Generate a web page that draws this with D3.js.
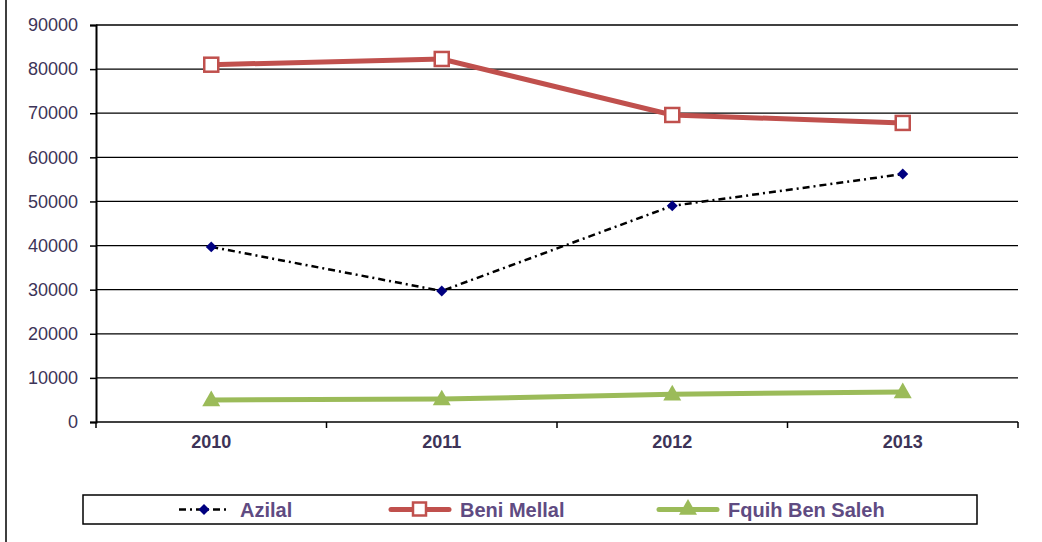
<html>
<head>
<meta charset="UTF-8">
<script src="https://d3js.org/d3.v7.min.js"></script>
<style>
  body { margin: 0; background: #fff; font-family: 'Liberation Sans', Arial, sans-serif; }
</style>
</head>
<body>
<script>
  var years = ["2010", "2011", "2012", "2013"];
  var azilal = [39700, 29700, 49000, 56200];
  var beniMellal = [81000, 82300, 69600, 67800];
  var fquih = [5000, 5200, 6300, 6800];
  var yTicks = [0, 10000, 20000, 30000, 40000, 50000, 60000, 70000, 80000, 90000];

  var W = 1042, H = 542;
  var margin = {top: 25, right: 24, bottom: 120, left: 96};
  var width = W - margin.left - margin.right,
      height = H - margin.top - margin.bottom;
  var font = "'Liberation Sans', Arial, sans-serif";

  var svg = d3.select("body").append("svg")
    .attr("width", W).attr("height", H);

  // chart border (only left edge visible in original)
  svg.append("rect")
    .attr("x", 6).attr("y", -5).attr("width", W + 10).attr("height", H + 10)
    .attr("fill", "none").attr("stroke", "#000").attr("stroke-width", 1.5);

  var g = svg.append("g")
    .attr("transform", "translate(" + margin.left + "," + margin.top + ")");

  var x = d3.scaleBand().domain(years).range([0, width]);
  var y = d3.scaleLinear().domain([0, 90000]).range([height, 0]);

  // gridlines
  g.selectAll(".grid").data(yTicks.slice(1)).enter().append("line")
    .attr("x1", 0).attr("x2", width)
    .attr("y1", function(d) { return y(d); }).attr("y2", function(d) { return y(d); })
    .attr("stroke", "#000").attr("stroke-width", 1.3);

  // y axis
  var yAxis = g.append("g")
    .call(d3.axisLeft(y).tickValues(yTicks).tickSize(6).tickPadding(12).tickFormat(d3.format("d")));
  yAxis.attr("font-size", null).attr("font-family", null);
  yAxis.select(".domain").attr("stroke-width", 2);
  yAxis.selectAll(".tick line").attr("stroke-width", 1.5);
  yAxis.selectAll("text")
    .style("font-family", font)
    .style("font-size", "18px").attr("fill", "#3d3458");

  // x axis
  var xAxis = g.append("g")
    .attr("transform", "translate(0," + height + ")")
    .call(d3.axisBottom(x).tickSize(0).tickPadding(13));
  xAxis.attr("font-size", null).attr("font-family", null);
  xAxis.select(".domain").remove();
  xAxis.selectAll("text")
    .style("font-family", font)
    .style("font-size", "18px").style("font-weight", "bold").attr("fill", "#3d3458");
  g.append("line").attr("x1", 0).attr("x2", width)
    .attr("y1", height).attr("y2", height)
    .attr("stroke", "#000").attr("stroke-width", 1.5);
  var bounds = years.map(function(d) { return x(d); }).concat([width]);
  g.selectAll(".xtick").data(bounds).enter().append("line")
    .attr("x1", function(d) { return d; }).attr("x2", function(d) { return d; })
    .attr("y1", height).attr("y2", height + 6)
    .attr("stroke", "#000").attr("stroke-width", 1.5);

  var cx = function(d, i) { return x(years[i]) + x.bandwidth() / 2; };
  var line = d3.line().x(cx).y(function(d) { return y(d); });

  // Fquih Ben Saleh
  g.append("path").datum(fquih).attr("d", line)
    .attr("fill", "none").attr("stroke", "#9bbb59").attr("stroke-width", 5);
  var tri = d3.symbol().type(d3.symbolTriangle).size(140);
  g.selectAll(".tri").data(fquih).enter().append("path")
    .attr("d", tri)
    .attr("transform", function(d, i) { return "translate(" + cx(d, i) + "," + (y(d) + 1) + ")"; })
    .attr("fill", "#9bbb59");

  // Azilal
  g.append("path").datum(azilal).attr("d", line)
    .attr("fill", "none").attr("stroke", "#000").attr("stroke-width", 2.5)
    .attr("stroke-dasharray", "7,4,2,4");
  var dia = d3.symbol().type(d3.symbolSquare).size(60);
  g.selectAll(".dia").data(azilal).enter().append("path")
    .attr("d", dia)
    .attr("transform", function(d, i) { return "translate(" + cx(d, i) + "," + y(d) + ") rotate(45)"; })
    .attr("fill", "#000080");

  // Beni Mellal
  g.append("path").datum(beniMellal).attr("d", line)
    .attr("fill", "none").attr("stroke", "#c0504d").attr("stroke-width", 5);
  g.selectAll(".sq").data(beniMellal).enter().append("rect")
    .attr("x", function(d, i) { return cx(d, i) - 7; })
    .attr("y", function(d) { return y(d) - 7; })
    .attr("width", 14).attr("height", 14)
    .attr("fill", "#fff").attr("stroke", "#c0504d").attr("stroke-width", 2.5);

  // legend
  var leg = svg.append("g");
  leg.append("rect").attr("x", 83).attr("y", 495).attr("width", 894).attr("height", 29)
    .attr("fill", "#fff").attr("stroke", "#000").attr("stroke-width", 1.5);
  var ly = 509.5;
  var items = [
    {name: "Azilal", x0: 179, x1: 229},
    {name: "Beni Mellal", x0: 391, x1: 449},
    {name: "Fquih Ben Saleh", x0: 659, x1: 717}
  ];
  // Azilal symbol
  leg.append("line").attr("x1", items[0].x0).attr("x2", items[0].x1).attr("y1", ly).attr("y2", ly)
    .attr("stroke", "#000").attr("stroke-width", 2.5).attr("stroke-dasharray", "7,4,2,4");
  leg.append("path").attr("d", dia)
    .attr("transform", "translate(" + ((items[0].x0 + items[0].x1) / 2) + "," + ly + ") rotate(45)")
    .attr("fill", "#000080");
  // Beni Mellal symbol
  leg.append("line").attr("x1", items[1].x0).attr("x2", items[1].x1).attr("y1", ly).attr("y2", ly)
    .attr("stroke", "#c0504d").attr("stroke-width", 5).attr("stroke-linecap", "round");
  leg.append("rect").attr("x", (items[1].x0 + items[1].x1) / 2 - 7).attr("y", ly - 7)
    .attr("width", 13).attr("height", 13)
    .attr("fill", "#fff").attr("stroke", "#c0504d").attr("stroke-width", 2.5);
  // Fquih symbol
  leg.append("line").attr("x1", items[2].x0).attr("x2", items[2].x1).attr("y1", ly).attr("y2", ly)
    .attr("stroke", "#9bbb59").attr("stroke-width", 5).attr("stroke-linecap", "round");
  leg.append("path").attr("d", tri).attr("transform", "translate(" + ((items[2].x0 + items[2].x1) / 2) + "," + ly + ")")
    .attr("fill", "#9bbb59");

  leg.selectAll(".lt").data(items).enter().append("text")
    .attr("x", function(d) { return d.x1 + 11; })
    .attr("y", ly + 7)
    .style("font-family", font)
    .style("font-size", "20px").style("font-weight", "bold").attr("fill", "#5f4b82")
    .text(function(d) { return d.name; });
</script>
</body>
</html>
